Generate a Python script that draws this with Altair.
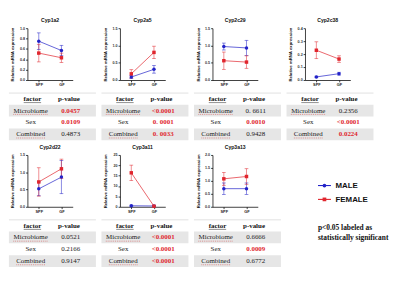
import altair as alt
import pandas as pd

# ---------------- data ----------------
genes = ["Cyp1a2", "Cyp2a5", "Cyp2c29", "Cyp2c38", "Cyp2d22", "Cyp3a11", "Cyp3a13"]
groups = ["SPF", "GF"]
sexes = ["MALE", "FEMALE"]

y_max = [1.0, 1.5, 1.5, 0.4, 1.5, 25, 2.0]
y_ticks = [
    [0, 0.2, 0.4, 0.6, 0.8, 1.0],
    [0, 0.5, 1.0, 1.5],
    [0, 0.5, 1.0, 1.5],
    [0, 0.1, 0.2, 0.3, 0.4],
    [0, 0.5, 1.0, 1.5],
    [0, 5, 10, 15, 20, 25],
    [0, 0.5, 1.0, 1.5, 2.0],
]
y_format = [".1f", ".1f", ".1f", ".1f", ".1f", "d", ".1f"]

male_spf = [0.75, 0.087, 0.97, 0.024, 0.52, 0.5, 0.70]
male_spf_err = [0.16, 0.04, 0.10, 0.006, 0.20, 0.3, 0.22]
male_gf = [0.57, 0.31, 0.93, 0.049, 0.86, 0.4, 0.70]
male_gf_err = [0.10, 0.11, 0.22, 0.011, 0.48, 0.3, 0.22]
female_spf = [0.52, 0.18, 0.56, 0.23, 0.72, 16.4, 1.08]
female_spf_err = [0.17, 0.12, 0.25, 0.065, 0.41, 3.7, 0.25]
female_gf = [0.43, 0.80, 0.52, 0.162, 1.10, 0.3, 1.17]
female_gf_err = [0.09, 0.18, 0.18, 0.025, 0.28, 0.2, 0.30]

factors = ["Microbiome", "Sex", "Combined"]
p_microbiome = ["0.0457", "<0.0001", "0. 6611", "0.2356", "0.0521", "<0.0001", "0.6666"]
p_sex = ["0.0109", "0. 0001", "0.0010", "<0.0001", "0.2166", "<0.0001", "0.0009"]
p_combined = ["0.4873", "0. 0033", "0.9428", "0.0224", "0.9147", "<0.0001", "0.6772"]

note_text = "p<0.05 labeled as\nstatistically significant"

# ---------------- style / layout ----------------
BLUE = "#2323c8"
RED = "#e0262e"
SERIF = "Liberation Serif"
SANS = "Liberation Sans"

COL_W = 94          # full width of one panel column
TABLE_LEFT = 20     # part of the table lying left of the plot origin
PLOT_W = 49
PLOT_H = 56
TABLE_H = 51

color_scale = alt.Scale(domain=sexes, range=[BLUE, RED])
shape_scale = alt.Scale(domain=sexes, range=["circle", "square"])


def is_sig(s):
    return float(s.replace("<", "").replace(" ", "")) < 0.05


def plot_panel(i):
    recs = []
    series = [
        ("MALE", male_spf[i], male_spf_err[i], male_gf[i], male_gf_err[i]),
        ("FEMALE", female_spf[i], female_spf_err[i], female_gf[i], female_gf_err[i]),
    ]
    for sex, spf, spf_e, gf, gf_e in series:
        for g, m, e in [("SPF", spf, spf_e), ("GF", gf, gf_e)]:
            recs.append({"sex": sex, "group": g, "mean": m, "lo": max(m - e, 0), "hi": m + e})
    df = pd.DataFrame(recs)

    x = alt.X(
        "group:N",
        scale=alt.Scale(type="point", domain=groups, padding=0.5),
        axis=alt.Axis(
            title=None, labelAngle=0, labelFont=SANS, labelFontSize=4.2,
            labelFontWeight="bold", labelColor="#222", tickSize=2,
            tickColor="black", domainColor="black", labelPadding=1,
            tickWidth=0.8, domainWidth=0.8,
        ),
    )
    yscale = alt.Scale(domain=[0, y_max[i]], nice=False, zero=True)
    yaxis = alt.Axis(
        title="Relative mRNA expression", values=y_ticks[i], format=y_format[i],
        titleFont=SANS, titleFontSize=4.6, titleFontWeight="bold", titleColor="#111",
        titlePadding=3.5, labelFont=SANS, labelFontSize=4, labelFontWeight="bold",
        labelColor="#333", tickSize=2, tickColor="black", domainColor="black",
        tickWidth=0.8, domainWidth=0.8, grid=False, labelPadding=1,
        minExtent=10, maxExtent=10,
    )
    col = alt.Color("sex:N", scale=color_scale, legend=None)
    base = alt.Chart(df)

    err = base.mark_rule(strokeWidth=0.8, opacity=0.7).encode(
        x=x, y=alt.Y("lo:Q", scale=yscale, axis=yaxis), y2="hi:Q", color=col
    )
    cap_lo = base.mark_tick(size=4, thickness=0.8, opacity=0.7).encode(
        x=x, y=alt.Y("lo:Q", scale=yscale, axis=yaxis), color=col
    )
    cap_hi = base.mark_tick(size=4, thickness=0.8, opacity=0.7).encode(
        x=x, y=alt.Y("hi:Q", scale=yscale, axis=yaxis), color=col
    )
    line = base.mark_line(strokeWidth=1, opacity=0.75).encode(
        x=x, y=alt.Y("mean:Q", scale=yscale, axis=yaxis), color=col
    )
    pts = base.mark_point(filled=True, size=14, opacity=1).encode(
        x=x, y=alt.Y("mean:Q", scale=yscale, axis=yaxis), color=col,
        shape=alt.Shape("sex:N", scale=shape_scale, legend=None),
    )
    return alt.layer(err, cap_lo, cap_hi, line, pts).properties(
        width=PLOT_W, height=PLOT_H,
        title=alt.TitleParams(genes[i], font=SANS, fontSize=5.5, fontWeight="bold",
                              offset=3, color="#111", anchor="middle", frame="group"),
    )


def table_panel(i):
    vals = [p_microbiome[i], p_sex[i], p_combined[i]]
    tdf = pd.DataFrame({
        "r": [0, 1, 2, 3],
        "factor": ["factor"] + factors,
        "p": ["p-value"] + vals,
        "kind": ["head"] + ["sig" if is_sig(v) else "ns" for v in vals],
        "shade": [False, True, False, True],
    })
    y = alt.Y("r:O", axis=None, scale=alt.Scale(domain=[0, 1, 2, 3], paddingInner=0, paddingOuter=0))
    # table coordinates: 0 = left edge of the column, 1 = right edge
    xs = alt.Scale(domain=[TABLE_LEFT / COL_W, 1])

    def X(u):
        return alt.XDatum(u, type="quantitative", scale=xs, axis=None)

    base = alt.Chart(tdf)
    rect = base.transform_filter("datum.shade").mark_rect(color="#e6e6e6").encode(
        y=y, x=X(0.0), x2=alt.X2Datum(1.0)
    )
    top_line = base.transform_filter("datum.r == 0").mark_rule(
        color="#c8c8c8", strokeWidth=0.6, yOffset=-6.3
    ).encode(y=y, x=X(0.0), x2=alt.X2Datum(1.0))
    head_f = base.transform_filter("datum.kind == 'head'").mark_text(
        font=SERIF, fontSize=7.5, fontWeight="bold", color="#111"
    ).encode(y=y, x=X(0.27), text="factor:N")
    head_p = base.transform_filter("datum.kind == 'head'").mark_text(
        font=SERIF, fontSize=7.5, fontWeight="bold", color="#111"
    ).encode(y=y, x=X(0.69), text="p:N")
    body_f = base.transform_filter("datum.kind != 'head'").mark_text(
        font=SERIF, fontSize=7.5, color="#222"
    ).encode(y=y, x=X(0.25), text="factor:N")
    p_sig = base.transform_filter("datum.kind == 'sig'").mark_text(
        font=SERIF, fontSize=7.5, fontWeight="bold", color=RED
    ).encode(y=y, x=X(0.71), text="p:N")
    p_ns = base.transform_filter("datum.kind == 'ns'").mark_text(
        font=SERIF, fontSize=7.5, color="#222"
    ).encode(y=y, x=X(0.71), text="p:N")

    ul_head = base.transform_filter("datum.r == 0").mark_rule(
        color="#333", strokeWidth=0.6, yOffset=4
    ).encode(y=y, x=X(0.17), x2=alt.X2Datum(0.37))
    ul_mic = base.transform_filter("datum.r == 1").mark_rule(
        color="#d04848", strokeWidth=0.6, strokeDash=[1, 1], yOffset=4
    ).encode(y=y, x=X(0.05), x2=alt.X2Datum(0.45))
    ul_com = base.transform_filter("datum.r == 3").mark_rule(
        color="#d04848", strokeWidth=0.6, strokeDash=[1, 1], yOffset=4
    ).encode(y=y, x=X(0.085), x2=alt.X2Datum(0.415))

    return alt.layer(rect, top_line, ul_head, ul_mic, ul_com, head_f, head_p,
                     body_f, p_sig, p_ns).properties(width=COL_W - TABLE_LEFT, height=TABLE_H)


def panel(i):
    return alt.vconcat(plot_panel(i), table_panel(i), spacing=5)


def legend_panel():
    ldf = pd.DataFrame({"sex": sexes})
    y = alt.Y("sex:N", scale=alt.Scale(type="point", domain=sexes, range=[33, 48], padding=0), axis=None)
    col = alt.Color("sex:N", scale=color_scale, legend=None)
    base = alt.Chart(ldf)
    seg = base.mark_rule(strokeWidth=1.2).encode(y=y, x=alt.value(14), x2=alt.value(28), color=col)
    sym = base.mark_point(filled=True, size=16, opacity=1).encode(
        y=y, x=alt.value(21), color=col,
        shape=alt.Shape("sex:N", scale=shape_scale, legend=None),
    )
    lab = base.mark_text(align="left", font=SANS, fontSize=8.5, fontWeight="bold", color="#111").encode(
        y=y, x=alt.value(33), text="sex:N"
    )
    note = alt.Chart(pd.DataFrame({"t": [note_text]})).mark_text(
        align="left", baseline="middle", font=SERIF, fontSize=8, fontWeight="bold",
        color="#111", lineBreak="\n", lineHeight=11,
    ).encode(x=alt.value(14), y=alt.value(79), text="t:N")
    return alt.layer(seg, sym, lab, note).properties(width=COL_W, height=100)


cells = [panel(i) for i in range(7)] + [legend_panel()]

chart = (
    alt.concat(*cells, columns=4, spacing={"row": 5, "column": 4})
    .properties(padding=0, background="white")
    .configure_view(stroke=None)
)

chart.save("out.html", embed_options={"renderer": "svg", "actions": False})
